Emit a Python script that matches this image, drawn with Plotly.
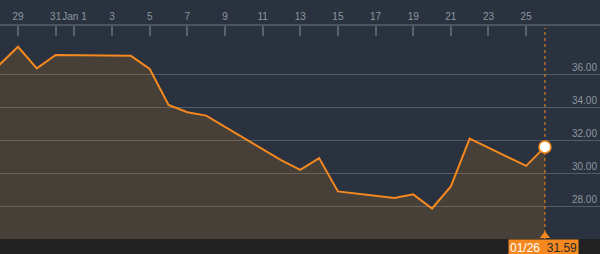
import plotly.graph_objects as go

dates = ["2015-12-28", "2015-12-29", "2015-12-30", "2015-12-31", "2016-01-04",
         "2016-01-05", "2016-01-06", "2016-01-07", "2016-01-08", "2016-01-12",
         "2016-01-13", "2016-01-14", "2016-01-15", "2016-01-18", "2016-01-19",
         "2016-01-20", "2016-01-21", "2016-01-22", "2016-01-25", "2016-01-26"]
prices = [36.56, 37.67, 36.36, 37.17, 37.12,
          36.32, 34.14, 33.70, 33.49, 30.77,
          30.20, 30.91, 28.89, 28.49, 28.71,
          27.85, 29.19, 32.10, 30.44, 31.59]

tick_dates = ["2015-12-29", "2015-12-31", "2016-01-01", "2016-01-03", "2016-01-05",
              "2016-01-07", "2016-01-09", "2016-01-11", "2016-01-13", "2016-01-15",
              "2016-01-17", "2016-01-19", "2016-01-21", "2016-01-23", "2016-01-25"]
tick_text = ["29", "31", "Jan 1", "3", "5", "7", "9", "11", "13", "15",
             "17", "19", "21", "23", "25"]
y_ticks = [28, 30, 32, 34, 36]
y_text = ["28.00", "30.00", "32.00", "34.00", "36.00"]

last_date = dates[-1]
last_price = prices[-1]
last_label = "01/26"

Y_MIN, Y_MAX = 26.0, 38.93

BG = "#29323e"
ORANGE = "#f5891f"

fig = go.Figure()
fig.add_trace(go.Scatter(
    x=dates, y=prices, mode="lines",
    line=dict(color=ORANGE, width=2),
    fill="tozeroy", fillcolor="rgba(247,147,30,0.15)",
    hoverinfo="skip", showlegend=False))

# dotted crosshair line
fig.add_trace(go.Scatter(
    x=[last_date, last_date], y=[Y_MIN, Y_MAX - 0.12], mode="lines",
    line=dict(color=ORANGE, width=1, dash="dot"),
    hoverinfo="skip", showlegend=False))

# pointer triangle at the bottom
fig.add_trace(go.Scatter(
    x=[last_date], y=[Y_MIN + 0.2], mode="markers",
    marker=dict(symbol="triangle-up", size=9, color=ORANGE, line=dict(width=0)),
    cliponaxis=False, hoverinfo="skip", showlegend=False))

# last point marker
fig.add_trace(go.Scatter(
    x=[last_date], y=[last_price], mode="markers",
    marker=dict(symbol="circle", size=12, color="white",
                line=dict(color=ORANGE, width=1.5)),
    cliponaxis=False, hoverinfo="skip", showlegend=False))

# bottom dark strip
fig.add_shape(type="rect", xref="paper", yref="paper",
              x0=0, x1=1, y0=-15/213, y1=0,
              fillcolor="#222222", line=dict(width=0), layer="above")

fig.add_annotation(
    x=last_date, xref="x", y=0, yref="paper", yanchor="top", xanchor="center",
    xshift=-1,
    text=f'<span style="color:white">{last_label}</span>  '
         f'<span style="color:#2a2a2a">{last_price:.2f}</span>',
    showarrow=False, bgcolor=ORANGE, borderpad=1,
    font=dict(family="Liberation Sans, Arial", size=12))

fig.update_layout(
    width=600, height=254,
    margin=dict(l=0, r=0, t=26, b=15),
    paper_bgcolor=BG, plot_bgcolor=BG,
    xaxis=dict(
        type="date", side="top",
        range=["2015-12-28 01:03", "2016-01-28 22:12"],
        tickvals=tick_dates, ticktext=tick_text, tickangle=0,
        ticks="inside", ticklen=10, tickwidth=1.5, tickcolor="#59616c",
        showline=True, linecolor="#4c5460", linewidth=2,
        showgrid=False, zeroline=False,
        tickfont=dict(family="Liberation Sans, Arial", size=10, color="#8c96a0"),
    ),
    yaxis=dict(
        side="right", range=[Y_MIN, Y_MAX],
        tickvals=y_ticks, ticktext=y_text,
        ticklabelposition="inside top",
        showgrid=True, gridcolor="rgba(255,255,255,0.2)", gridwidth=1,
        zeroline=False, showline=False, ticks="",
        tickfont=dict(family="Liberation Sans, Arial", size=10, color="#8c96a0"),
    ),
)

fig.write_html("out.html")
